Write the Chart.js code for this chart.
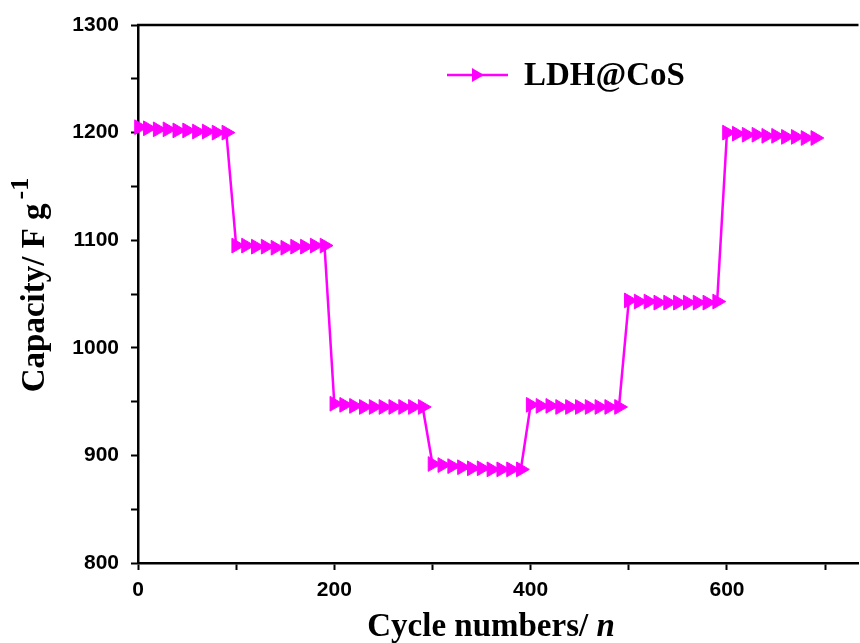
<!DOCTYPE html>
<html>
<head>
<meta charset="utf-8">
<script src="https://cdn.jsdelivr.net/npm/chart.js@4/dist/chart.umd.min.js"></script>
<style>
  html, body { margin: 0; padding: 0; background: #fff; overflow: hidden; }
  #wrap { width: 868px; height: 643px; }
</style>
</head>
<body>
<div id="wrap"><canvas id="capChart"></canvas></div>
<script>
// cycle numbers (x) and capacity (F/g)
var cycles = [
  1, 10, 20, 30, 40, 50, 60, 70, 80, 90,
  100, 110, 120, 130, 140, 150, 160, 170, 180, 190,
  200, 210, 220, 230, 240, 250, 260, 270, 280, 290,
  300, 310, 320, 330, 340, 350, 360, 370, 380, 390,
  400, 410, 420, 430, 440, 450, 460, 470, 480, 490,
  500, 510, 520, 530, 540, 550, 560, 570, 580, 590,
  600, 610, 620, 630, 640, 650, 660, 670, 680, 690
];
var capacity = [
  1205, 1204, 1203, 1203, 1202, 1202, 1201, 1201, 1200, 1200,
  1095, 1095, 1094, 1094, 1093, 1093, 1094, 1094, 1095, 1095,
  948, 947, 946, 945, 945, 945, 945, 945, 945, 945,
  892, 891, 890, 889, 888, 888, 887, 887, 887, 887,
  947, 946, 946, 945, 945, 945, 945, 945, 945, 945,
  1044, 1043, 1043, 1042, 1042, 1042, 1042, 1042, 1042, 1043,
  1200, 1199, 1198, 1198, 1197, 1197, 1196, 1196, 1195, 1195
];
var seriesName = "LDH@CoS";
var yTicks = [800, 900, 1000, 1100, 1200, 1300];
var xTicks = [0, 200, 400, 600];

var magenta = "#ff00ff";
var serif = "'Liberation Serif', 'Times New Roman', serif";

// titles, legend and top frame line
var decorations = {
  id: "decorations",
  afterDraw: function (chart) {
    var ctx = chart.ctx;
    var area = chart.chartArea;
    ctx.save();

    // top frame
    ctx.strokeStyle = "#000";
    ctx.lineWidth = 2.5;
    ctx.beginPath();
    ctx.moveTo(area.left - 1, area.top);
    ctx.lineTo(area.right, area.top);
    ctx.stroke();

    // x title with italic n
    ctx.fillStyle = "#000";
    ctx.textBaseline = "middle";
    var f1 = "bold 33px " + serif;
    var f2 = "italic bold 33px " + serif;
    var a = "Cycle numbers/ ", b = "n";
    ctx.font = f1;
    var wa = ctx.measureText(a).width;
    ctx.font = f2;
    var wb = ctx.measureText(b).width;
    var x0 = 491 - (wa + wb) / 2;
    ctx.font = f1;
    ctx.textAlign = "left";
    ctx.fillText(a, x0, 627);
    ctx.font = f2;
    ctx.fillText(b, x0 + wa, 627);

    // y title with superscript -1
    ctx.save();
    ctx.translate(35, 285);
    ctx.rotate(-Math.PI / 2);
    var t1 = "Capacity/ F g", t2 = "-1";
    var fs = "bold 26px " + serif;
    ctx.font = f1;
    var w1 = ctx.measureText(t1).width;
    ctx.font = fs;
    var w2 = ctx.measureText(t2).width;
    var sx = -(w1 + w2 + 4) / 2;
    ctx.font = f1;
    ctx.fillText(t1, sx, 0);
    ctx.font = fs;
    ctx.fillText(t2, sx + w1 + 4, -14);
    ctx.restore();

    // legend
    var ly = 75;
    ctx.strokeStyle = magenta;
    ctx.lineWidth = 2.5;
    ctx.beginPath();
    ctx.moveTo(447, ly);
    ctx.lineTo(508, ly);
    ctx.stroke();
    var r = 8, cx = 476;
    ctx.fillStyle = magenta;
    ctx.beginPath();
    ctx.moveTo(cx + r, ly);
    ctx.lineTo(cx - r / 2, ly - r * 0.866);
    ctx.lineTo(cx - r / 2, ly + r * 0.866);
    ctx.closePath();
    ctx.fill();
    ctx.fillStyle = "#000";
    ctx.font = f1;
    ctx.fillText(seriesName, 524, ly + 1);

    ctx.restore();
  }
};

var points = cycles.map(function (c, i) {
  return { x: c, y: capacity[i] };
});

var tickFont = { family: "'Liberation Sans', Arial, sans-serif", size: 21, weight: "bold" };

var ctx = document.getElementById("capChart").getContext("2d");
var capChart = new Chart(ctx, {
  type: "line",
  data: {
    datasets: [
      {
        label: seriesName,
        data: points,
        borderColor: magenta,
        backgroundColor: magenta,
        borderWidth: 2.5,
        pointStyle: "triangle",
        pointRotation: 90,
        pointRadius: 8.5,
        pointBorderWidth: 1,
        pointBorderColor: magenta,
        pointBackgroundColor: magenta,
        tension: 0,
        clip: false,
      },
    ],
  },
  options: {
    responsive: true,
    maintainAspectRatio: false,
    animation: false,
    layout: {
      padding: { top: 25, right: 0, bottom: 0, left: 0 },
    },
    plugins: {
      legend: { display: false },
      tooltip: { enabled: false },
    },
    scales: {
      x: {
        type: "linear",
        min: 0,
        max: 734,
        afterFit: function (scale) {
          scale.height = 80;
        },
        afterBuildTicks: function (scale) {
          var t = [];
          for (var v = 0; v <= 700; v += 100) t.push({ value: v });
          scale.ticks = t;
        },
        ticks: {
          includeBounds: false,
          padding: 8,
          maxRotation: 0,
          autoSkip: false,
          color: "#000",
          font: tickFont,
          callback: function (value) {
            return xTicks.indexOf(value) >= 0 ? String(value) : "";
          },
        },
        grid: {
          drawOnChartArea: false,
          tickLength: 7,
          tickWidth: 2,
          tickColor: "#000",
        },
        border: { display: true, color: "#000", width: 2.5 },
      },
      y: {
        type: "linear",
        min: 800,
        max: 1300,
        afterFit: function (scale) {
          scale.width = 138;
        },
        afterBuildTicks: function (scale) {
          var t = [];
          for (var v = 800; v <= 1300; v += 50) t.push({ value: v });
          scale.ticks = t;
        },
        ticks: {
          padding: 12,
          autoSkip: false,
          color: "#000",
          font: tickFont,
          callback: function (value) {
            return yTicks.indexOf(value) >= 0 ? String(value) : "";
          },
        },
        grid: {
          drawOnChartArea: false,
          tickLength: 7,
          tickWidth: 2,
          tickColor: "#000",
        },
        border: { display: true, color: "#000", width: 2.5 },
      },
    },
  },
  plugins: [decorations],
});
</script>
</body>
</html>
